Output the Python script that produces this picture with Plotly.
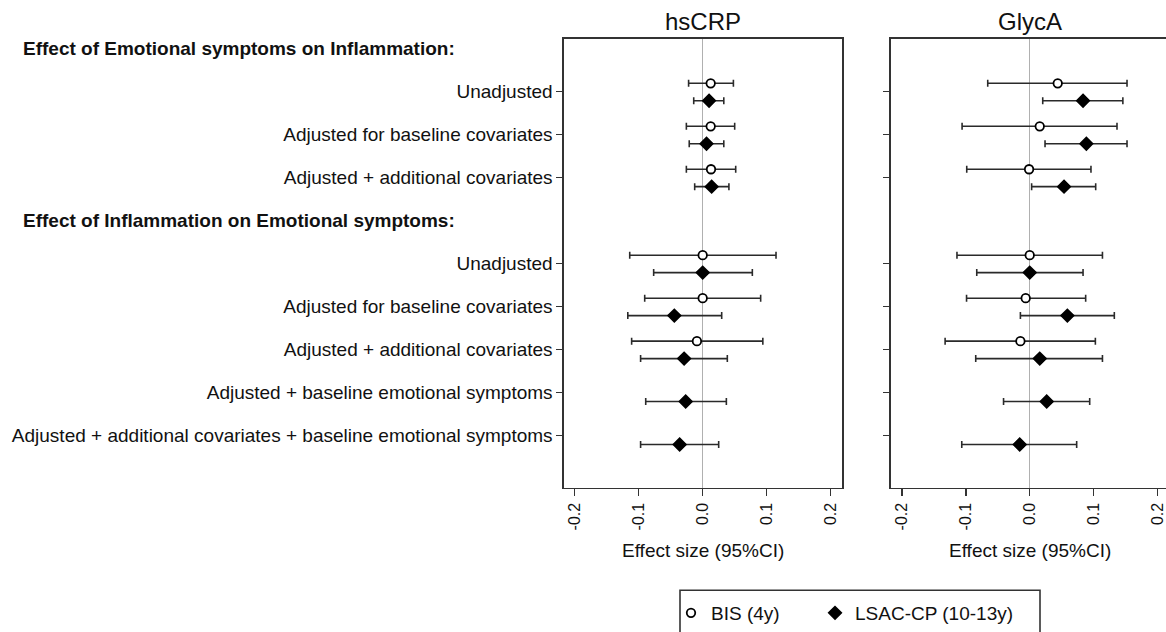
import plotly.graph_objects as go

# ---------------- data ----------------
section_titles = ["Effect of Emotional symptoms on Inflammation:",
                  "Effect of Inflammation on Emotional symptoms:"]
section1_labels = ["Unadjusted", "Adjusted for baseline covariates",
                   "Adjusted + additional covariates"]
section2_labels = ["Unadjusted", "Adjusted for baseline covariates",
                   "Adjusted + additional covariates",
                   "Adjusted + baseline emotional symptoms",
                   "Adjusted + additional covariates + baseline emotional symptoms"]
panel_titles = ["hsCRP", "GlycA"]
series_names = ["BIS (4y)", "LSAC-CP (10-13y)"]
x_tickvals = [-0.2, -0.1, 0.0, 0.1, 0.2]
x_ticktext = ["-0.2", "-0.1", "0.0", "0.1", "0.2"]
x_title = "Effect size (95%CI)"

# hsCRP
hs_bis_est = [0.0125, 0.0125, 0.013, 0.000, 0.000, -0.009, None, None]
hs_bis_lo = [-0.022, -0.0255, -0.0255, -0.114, -0.0906, -0.111, None, None]
hs_bis_hi = [0.048, 0.050, 0.0516, 0.1146, 0.0906, 0.094, None, None]
hs_lsac_est = [0.010, 0.006, 0.014, 0.000, -0.0443, -0.029, -0.0266, -0.036]
hs_lsac_lo = [-0.014, -0.021, -0.0125, -0.0766, -0.117, -0.097, -0.089, -0.097]
hs_lsac_hi = [0.033, 0.033, 0.041, 0.0776, 0.0297, 0.0385, 0.037, 0.025]

# GlycA
gl_bis_est = [0.0439, 0.0157, -0.001, 0.000, -0.0063, -0.0146, None, None]
gl_bis_lo = [-0.0658, -0.106, -0.0987, -0.114, -0.099, -0.1326, None, None]
gl_bis_hi = [0.1525, 0.1368, 0.096, 0.114, 0.0877, 0.1029, None, None]
gl_lsac_est = [0.0836, 0.0888, 0.0538, 0.000, 0.059, 0.0157, 0.0266, -0.0157]
gl_lsac_lo = [0.0204, 0.024, 0.003, -0.083, -0.0146, -0.0846, -0.041, -0.1065]
gl_lsac_hi = [0.146, 0.1525, 0.1034, 0.0836, 0.1326, 0.114, 0.094, 0.0736]

# ---------------- layout helpers ----------------
W, H = 1166, 632
FONT = "Liberation Sans, Arial, sans-serif"
INK = "#111111"
AX = "#333333"

# row positions (section heading occupies a row slot)
heading_pos = [0, 1 + len(section1_labels)]
row_pos = [heading_pos[0] + 1 + i for i in range(len(section1_labels))] + \
          [heading_pos[1] + 1 + i for i in range(len(section2_labels))]
row_labels = section1_labels + section2_labels
OFF_BIS, OFF_LSAC = -0.195, 0.21


def px(x):
    return x / W


def py(y):
    return 1 - y / H


y_dom = [py(491.7), py(39.3)]
x1_dom = [px(564), px(842)]
x2_dom = [px(891), 1.0]
y_range = [10.217, -0.226]

fig = go.Figure()


def add_series(est, lo, hi, off, symbol, size, fill, xa, ya, name, showleg, leg):
    xs, ys, ep, em = [], [], [], []
    for p, e, l, h in zip(row_pos, est, lo, hi):
        if e is None:
            continue
        xs.append(e)
        ys.append(p + off)
        ep.append(h - e)
        em.append(e - l)
    fig.add_trace(go.Scatter(
        x=xs, y=ys, mode="markers", name=name, showlegend=showleg,
        legend=leg, xaxis=xa, yaxis=ya,
        marker=dict(symbol=symbol, size=size, color=fill,
                    line=dict(color="black", width=1.8)),
        error_x=dict(type="data", symmetric=False, array=ep, arrayminus=em,
                     color="#2a2a2a", thickness=1.6, width=3.5),
    ))


add_series(hs_bis_est, hs_bis_lo, hs_bis_hi, OFF_BIS, "circle", 8.5, "white",
           "x", "y", series_names[0], True, "legend")
add_series(hs_lsac_est, hs_lsac_lo, hs_lsac_hi, OFF_LSAC, "diamond", 9.5, "black",
           "x", "y", series_names[1], True, "legend2")
add_series(gl_bis_est, gl_bis_lo, gl_bis_hi, OFF_BIS, "circle", 8.5, "white",
           "x2", "y2", series_names[0], False, "legend")
add_series(gl_lsac_est, gl_lsac_lo, gl_lsac_hi, OFF_LSAC, "diamond", 9.5, "black",
           "x2", "y2", series_names[1], False, "legend2")

xcommon = dict(tickvals=x_tickvals, ticktext=x_ticktext, tickangle=-90,
               ticks="outside", ticklen=7, tickwidth=1.4, tickcolor=AX,
               tickfont=dict(family=FONT, size=16, color=INK),
               showgrid=False, zeroline=True, zerolinecolor="#b0b0b0",
               zerolinewidth=1.2, showline=True, linecolor=AX, linewidth=1.6,
               automargin=False, fixedrange=True)
ycommon = dict(range=y_range, tickvals=row_pos, ticks="outside", ticklen=6,
               tickwidth=1.4, tickcolor=AX, showgrid=False, zeroline=False,
               showline=True, linecolor=AX, linewidth=1.6, automargin=False,
               fixedrange=True)

legcommon = dict(orientation="h", y=py(618), xanchor="left", yanchor="middle",
                 font=dict(family=FONT, size=19, color=INK),
                 bgcolor="rgba(0,0,0,0)", borderwidth=0, itemclick=False,
                 itemdoubleclick=False)

fig.update_layout(
    width=W, height=H,
    margin=dict(l=0, r=0, t=0, b=0),
    paper_bgcolor="white", plot_bgcolor="white",
    font=dict(family=FONT, color=INK),
    hovermode=False,
    xaxis=dict(domain=x1_dom, range=[-0.2167, 0.2177], anchor="y",
               mirror=True, **xcommon),
    xaxis2=dict(domain=x2_dom, range=[-0.2174, 0.2136], anchor="y2",
                mirror=True, **xcommon),
    yaxis=dict(domain=y_dom, anchor="x", ticktext=row_labels, mirror=True,
               tickfont=dict(family=FONT, size=19, color=INK), **ycommon),
    yaxis2=dict(domain=y_dom, anchor="x2", showticklabels=False, mirror=False,
                **ycommon),
    legend=dict(x=px(671), **legcommon),
    legend2=dict(x=px(815), **legcommon),
    showlegend=True,
)

ann = []
for t, dom in zip(panel_titles, [x1_dom, [px(891), px(1169)]]):
    cx = (dom[0] + dom[1]) / 2
    ann.append(dict(text=t, x=cx, y=py(22), xref="paper", yref="paper",
                    xanchor="center", yanchor="middle", showarrow=False,
                    font=dict(family=FONT, size=24, color=INK)))
    ann.append(dict(text=x_title, x=cx, y=py(555), xref="paper", yref="paper",
                    xanchor="center", yanchor="middle", showarrow=False,
                    font=dict(family=FONT, size=19, color=INK)))
for t, p in zip(section_titles, heading_pos):
    ann.append(dict(text="<b>" + t + "</b>", x=px(21), y=p, xref="paper",
                    yref="y", xanchor="left", yanchor="middle", showarrow=False,
                    font=dict(family=FONT, size=19, color=INK)))
fig.update_layout(annotations=ann)

# legend frame (extends past the bottom edge like the reference)
fig.add_shape(type="rect", xref="paper", yref="paper",
              x0=px(680), x1=px(1040), y0=py(660), y1=py(595),
              line=dict(color=AX, width=1.6), fillcolor="rgba(0,0,0,0)")

fig.write_html(
    "out.html",
    config={"displayModeBar": False, "staticPlot": True},
    post_script="document.body.style.margin='0';"
                "document.body.style.overflow='hidden';",
)
